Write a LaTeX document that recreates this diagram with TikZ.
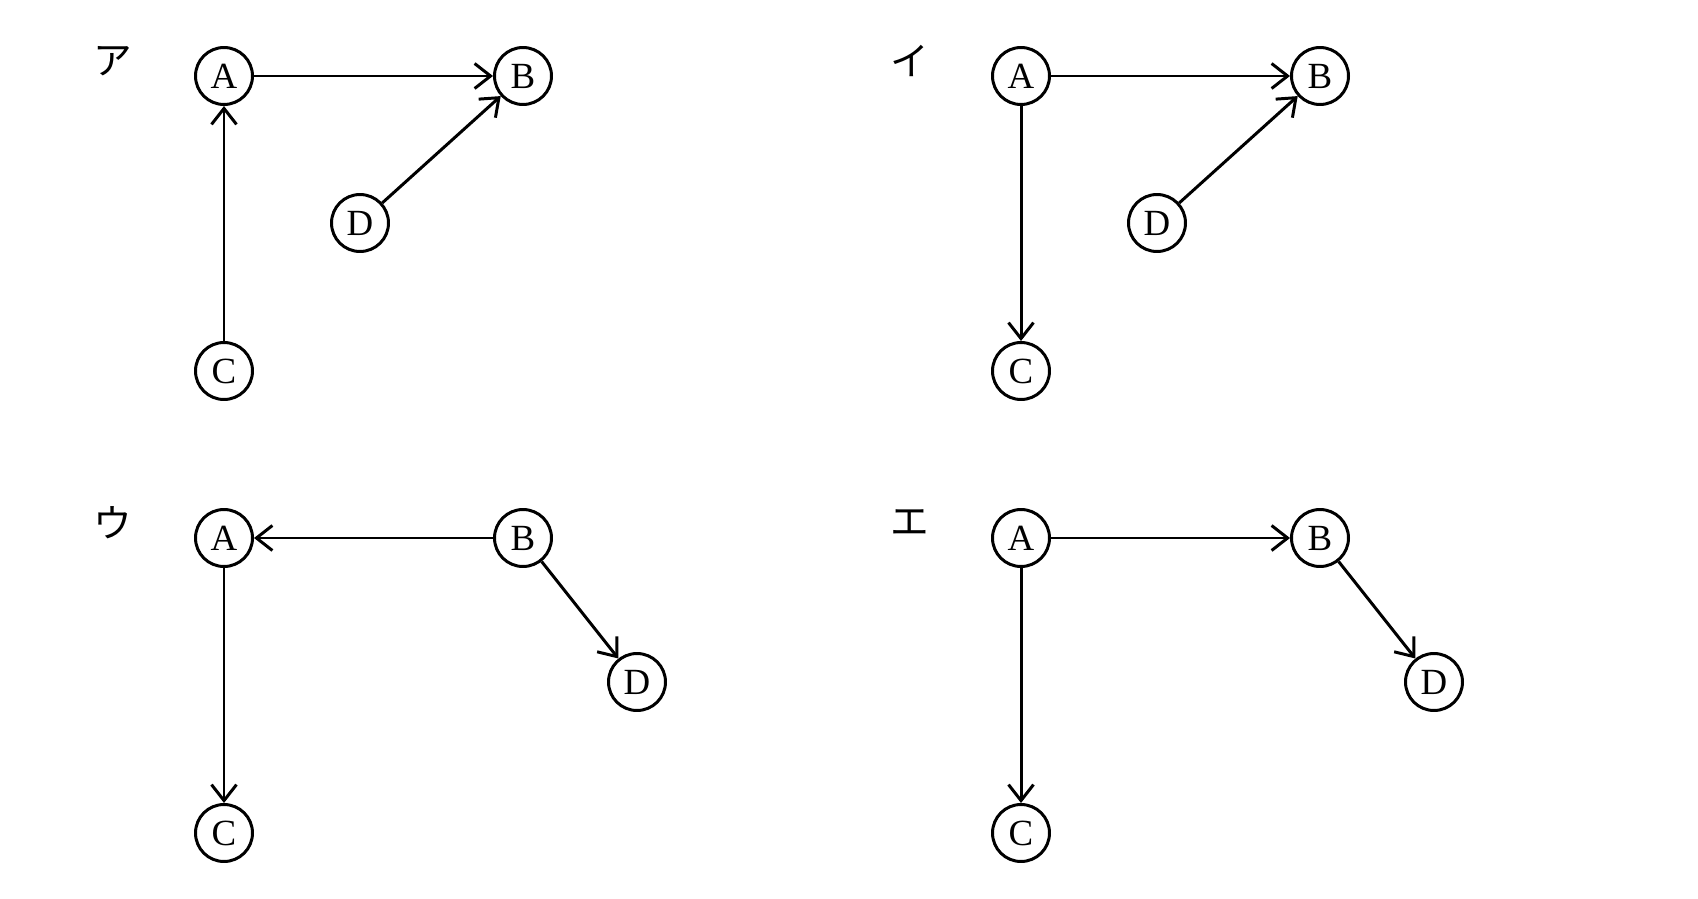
\documentclass[tikz,border=0pt]{standalone}
\usepackage{fontspec}
\setmainfont{Liberation Serif}
\newfontfamily\jpfont{Noto Sans CJK JP}
\usetikzlibrary{arrows.meta}

\tikzset{
  vertex/.style={draw, circle, line width=1.7pt, minimum size=1.14cm, inner sep=0pt,
    font=\fontsize{21}{21}\selectfont},
  edge/.style={line width=1.7pt, -{Straight Barb[length=3.2mm, width=5mm, line width=1.7pt]}},
  kana/.style={font=\jpfont\fontsize{22}{22}\selectfont}
}

\begin{document}
\begin{tikzpicture}[x=0.02cm, y=-0.02cm]
\useasboundingbox (0,0) rectangle (1698,899);
\newcommand\bx{299} % A -> B
\newcommand\cy{295} % A -> C
% nodes of the four graphs
\foreach \p/\ox/\oy/\dx/\dy/\lab in {1/0/0/136/147/ア, 2/797/0/136/147/イ,
  3/0/462/413/144/ウ, 4/797/462/413/144/エ}
{
\node[kana] (L\p) at (113+\ox, 61+\oy) {\lab};
\node[vertex] (A\p) at (224+\ox, 76+\oy) {A};
\node[vertex] (B\p) at (224+\bx+\ox, 76+\oy) {B};
\node[vertex] (C\p) at (224+\ox, 76+\cy+\oy) {C};
\node[vertex] (D\p) at (224+\dx+\ox, 76+\dy+\oy) {D};
}

% ア
\draw[edge] (C1) -- (A1);
\draw[edge] (A1) -- (B1);
\draw[edge] (D1) -- (B1);
% イ
\draw[edge] (A2) -- (B2);
\draw[edge] (A2) -- (C2);
\draw[edge] (D2) -- (B2);
% ウ
\draw[edge] (B3) -- (A3);
\draw[edge] (A3) -- (C3);
\draw[edge] (B3) -- (D3);
% エ
\draw[edge] (A4) -- (B4);
\draw[edge] (A4) -- (C4);
\draw[edge] (B4) -- (D4);
\end{tikzpicture}
\end{document}
